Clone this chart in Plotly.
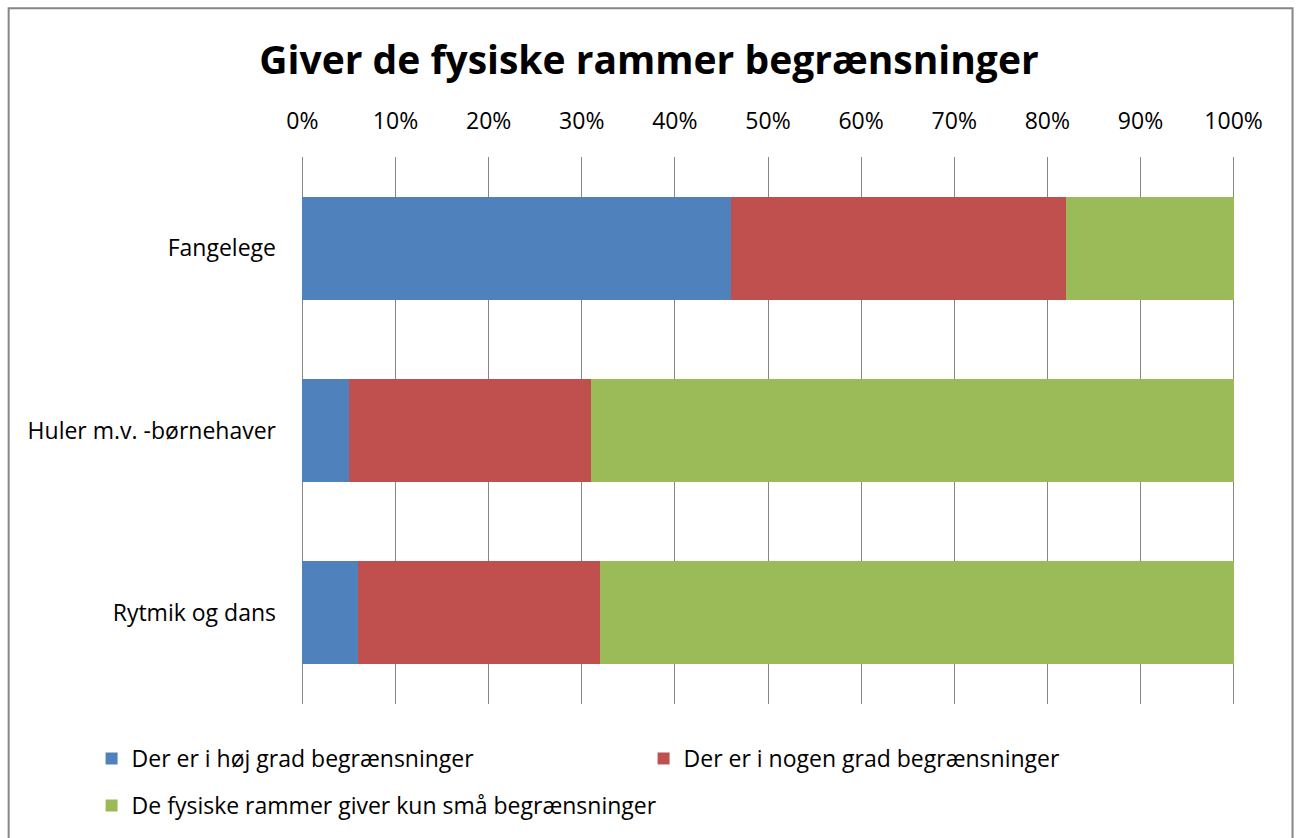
import plotly.graph_objects as go

categories = ["Fangelege", "Huler m.v. -børnehaver", "Rytmik og dans"]
series_names = [
    "Der er i høj grad begrænsninger",
    "Der er i nogen grad begrænsninger",
    "De fysiske rammer giver kun små begrænsninger",
]
hoj = [0.46, 0.05, 0.06]
nogen = [0.36, 0.26, 0.26]
smaa = [0.18, 0.69, 0.68]
colors = ["#4F81BD", "#C0504D", "#9BBB59"]
tick_vals = [i / 10 for i in range(11)]
tick_text = [f"{i*10}%" for i in range(11)]

FONT = "Open Sans"
FS = 23
W, H = 1298, 838
EPS = 0.0015
X0, X1 = 302, 1234            # pixel positions of 0% and 100%
unit = (X1 - X0)
L = X0 - EPS * unit
pw = unit * (1 + 2 * EPS)
R = W - L - pw
T, B = 157, 133
ph = H - T - B

def py(pix):  # pixel y -> paper y
    return (H - B - pix) / ph

def px(pix):  # pixel x -> paper x
    return (pix - L) / pw

fig = go.Figure()
legends = ["legend", "legend", "legend2"]
for name, vals, col, lg in zip(series_names, [hoj, nogen, smaa], colors, legends):
    fig.add_trace(go.Bar(
        y=categories, x=vals, name=name, orientation="h",
        marker=dict(color=col, line=dict(width=0)), legend=lg,
    ))

leg_common = dict(orientation="h", traceorder="normal", xanchor="left", yanchor="top",
                  entrywidthmode="pixels", itemwidth=30,
                  font=dict(family=FONT, size=FS, color="#000000"),
                  bgcolor="rgba(0,0,0,0)")

fig.update_layout(
    width=W, height=H,
    barmode="stack", bargap=0.435,
    paper_bgcolor="white", plot_bgcolor="white",
    margin=dict(l=L, r=R, t=T, b=B),
    font=dict(family=FONT, size=FS, color="#000000"),
    title=dict(text="<b>Giver de fysiske rammer begrænsninger</b>",
               font=dict(family=FONT, size=39, color="#000000"),
               x=0.5, xanchor="center", y=1 - 60 / H, yanchor="middle"),
    xaxis=dict(side="top", range=[-EPS, 1 + EPS], tickvals=tick_vals, ticktext=tick_text,
               showgrid=True, gridcolor="#868686", gridwidth=1.3,
               zeroline=False, showline=False, ticks="", ticklabelstandoff=22,
               tickfont=dict(family=FONT, size=FS)),
    yaxis=dict(autorange="reversed", showgrid=False, zeroline=False, showline=False,
               ticks="", ticklabelstandoff=24, tickfont=dict(family=FONT, size=FS)),
    legend=dict(x=px(91), y=py(737), entrywidth=507, **leg_common),
    legend2=dict(x=px(91), y=py(784), entrywidth=800, **leg_common),
    shapes=[dict(type="rect", xref="paper", yref="paper",
                 x0=px(8), x1=px(1293), y0=py(850), y1=py(8),
                 line=dict(color="#868686", width=2), fillcolor="rgba(0,0,0,0)",
                 layer="below")],
)

fig.write_html("out.html", config={"displayModeBar": False},
               post_script="document.body.style.margin='0';")
